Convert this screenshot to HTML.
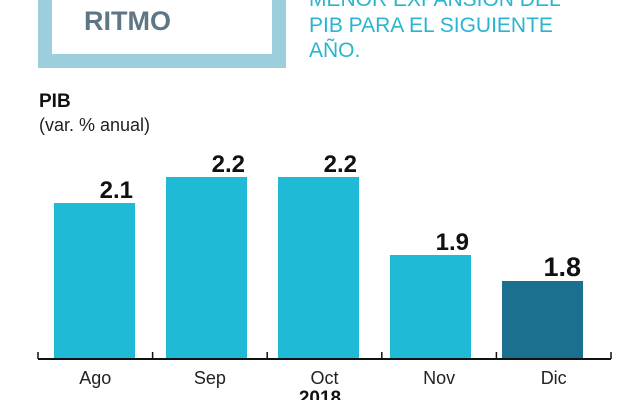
<!DOCTYPE html>
<html><head><meta charset="utf-8"><style>
body{margin:0;width:640px;height:400px;overflow:hidden;background:#fff;font-family:"Liberation Sans",sans-serif}
</style></head><body>
<svg width="640" height="400">
<rect x="38" y="0" width="248" height="68" fill="#9ccfdb"/>
<rect x="52" y="0" width="220" height="54" fill="#fff"/>
<text x="84" y="30" font-size="27" font-weight="bold" fill="#5f7784">RITMO</text>
<g fill="#29b5cf" font-size="21">
<text x="309" y="6">MENOR EXPANSIÓN DEL</text>
<text x="309" y="32">PIB PARA EL SIGUIENTE</text>
<text x="309" y="57">AÑO.</text>
</g>
<text x="39" y="107" font-size="19" font-weight="bold" fill="#111">PIB</text>
<text x="39" y="131" font-size="18" fill="#222">(var. % anual)</text>
<g id="bars"></g>
<line x1="38" y1="359" x2="611" y2="359" stroke="#111" stroke-width="2"/>
<g id="ticks"></g>
<text x="320" y="404" font-size="19" font-weight="bold" text-anchor="middle" fill="#111">2018</text>
</svg>
<script>
const categories=["Ago","Sep","Oct","Nov","Dic"];
const values=[2.1,2.2,2.2,1.9,1.8];
const colors=["#1fbbd6","#1fbbd6","#1fbbd6","#1fbbd6","#1b7090"];
const ns="http://www.w3.org/2000/svg";
const x0=38,step=114.6,bx0=54,bstep=112,bw=81,base=1.5,scale=260,y0=359;
function xs(i){return bx0+bstep*i;}
function ys(v){return y0-(v-base)*scale;}
const bars=document.getElementById("bars"),ticks=document.getElementById("ticks");
for(let i=0;i<=categories.length;i++){
 const t=document.createElementNS(ns,"line");
 
 
 const x=x0+step*i;
 t.setAttribute("x1",x);t.setAttribute("x2",x);t.setAttribute("y1",352);t.setAttribute("y2",359);
 t.setAttribute("stroke","#111");t.setAttribute("stroke-width","1.5");ticks.appendChild(t);
}
categories.forEach((c,i)=>{
 const r=document.createElementNS(ns,"rect");
 
 
 r.setAttribute("x",xs(i));r.setAttribute("y",ys(values[i]));r.setAttribute("width",bw);r.setAttribute("height",y0-ys(values[i]));r.setAttribute("fill",colors[i]);
 bars.appendChild(r);
 const v=document.createElementNS(ns,"text");
 
 
 v.setAttribute("x",xs(i)+bw-2);v.setAttribute("y",ys(values[i])-5);v.setAttribute("text-anchor","end");
 v.setAttribute("font-size",i==4?"27":"24");v.setAttribute("font-weight","bold");v.setAttribute("fill","#111");
 v.textContent=values[i].toFixed(1);bars.appendChild(v);
 const l=document.createElementNS(ns,"text");
 
 
 l.setAttribute("x",x0+step*(i+0.5));l.setAttribute("y",384);l.setAttribute("text-anchor","middle");l.setAttribute("font-size","18");l.setAttribute("fill","#222");
 l.textContent=c;bars.appendChild(l);
});
</script>
</body></html>
